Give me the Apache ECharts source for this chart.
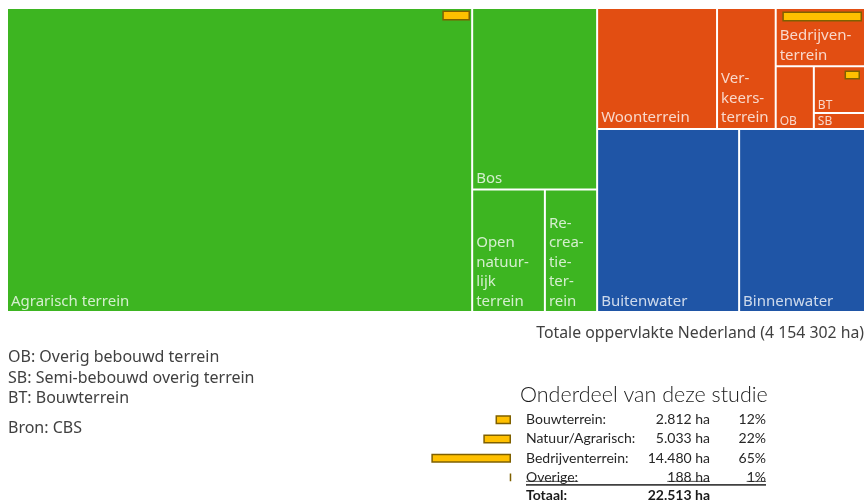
<!DOCTYPE html>
<html lang="nl">
<head>
<meta charset="utf-8">
<title>Bodemgebruik Nederland</title>
<script src="https://cdn.jsdelivr.net/npm/echarts@6/dist/echarts.min.js"></script>
<style>
  html, body { margin: 0; padding: 0; background: #ffffff; }
  #chart { width: 867px; height: 504px; }
</style>
</head>
<body>
<div id="chart"></div>
<script>
// Land use of the Netherlands, in hectares
const areaNames = ['Agrarisch terrein', 'Bos', 'Open natuurlijk terrein', 'Recreatieterrein',
  'Woonterrein', 'Verkeersterrein', 'Bedrijventerrein', 'OB', 'BT', 'SB',
  'Buitenwater', 'Binnenwater'];
const areaLabels = ['Agrarisch terrein', 'Bos', 'Open\nnatuur-\nlijk\nterrein', 'Re-\ncrea-\ntie-\nter-\nrein',
  'Woonterrein', 'Ver-\nkeers-\nterrein', 'Bedrijven-\nterrein', 'OB', 'BT', 'SB',
  'Buitenwater', 'Binnenwater'];
const areaHa = [2252302, 361000, 142000, 102000,
  231000, 113000, 83000, 38000, 38000, 13000,
  414000, 367000];

// Tree structure (indices into the arrays above)
const natuurIdx = [1, 2, 3];
const bebouwdIdx = [4, 5];
const bedrijvenIdx = [6, 7, 8, 9];
const waterIdx = [10, 11];

// Part of the study, in hectares
const studyNames = ['Bouwterrein:', 'Natuur/Agrarisch:', 'Bedrijventerrein:', 'Overige:'];
const studyHa = [2812, 5033, 14480, 188];
const studyPct = [12, 22, 65, 1];

const abbreviations = ['OB: Overig bebouwd terrein', 'SB: Semi-bebouwd overig terrein', 'BT: Bouwterrein'];
const sourceNote = 'Bron: CBS';

const GREEN = '#3db521';
const ORANGE = '#e24e12';
const BLUE = '#1f55a6';
const GOLD = '#ffc000';
const GOLD_EDGE = '#7f6000';
const TEXT = '#404040';

function colorOf(i) {
  if (i <= 3) return GREEN;
  if (i <= 9) return ORANGE;
  return BLUE;
}

const labelByName = {};
areaNames.forEach((n, i) => { labelByName[n] = areaLabels[i]; });

function leaf(i) {
  const node = { name: areaNames[i], value: areaHa[i], itemStyle: { color: colorOf(i) } };
  // short abbreviations sit in small cells: smaller type, tighter line box
  if (areaNames[i].length <= 2) node.label = { fontSize: 12, lineHeight: 12, padding: [0, 0, 0, 3] };
  return node;
}

const treeData = [
  leaf(0),
  { name: 'Natuur', children: natuurIdx.map(leaf) },
  { name: 'Overig', children: [
    { name: 'Bebouwd', children: bebouwdIdx.map(leaf).concat([
      { name: 'Bedrijven', children: bedrijvenIdx.map(leaf) }
    ]) },
    { name: 'Water', children: waterIdx.map(leaf) }
  ] }
];

const totalHa = areaHa.reduce((a, b) => a + b, 0);
const studyTotal = studyHa.reduce((a, b) => a + b, 0);
const spaced = n => String(n).replace(/\B(?=(\d{3})+(?!\d))/g, ' ');
const dotted = n => String(n).replace(/\B(?=(\d{3})+(?!\d))/g, '.');

// Study bars share one scale: SCALE_MAX ha across BAR_W px
const SCALE_MAX = 20000;
const BAR_W = 110;
const W = 867;

// Table of the study part
const tblTop = 410, tblH = 77, rowH = tblH / 4;
const rowY = i => tblTop + (i + 0.5) * rowH;
const colName = 526, colVal = 710, colPct = 766;
const tblFont = '14px Lato';

const measure = (() => {
  const ctx = document.createElement('canvas').getContext('2d');
  return (txt, font) => { ctx.font = font; return ctx.measureText(txt).width; };
})();

const graphics = [];
abbreviations.forEach((t, i) => {
  graphics.push({ type: 'text', style: { text: t, x: 8, y: [357, 378, 398.5][i], fill: TEXT,
    font: '16px "Noto Sans"', align: 'left', verticalAlign: 'middle' } });
});
graphics.push({ type: 'text', style: { text: sourceNote, x: 8, y: 428, fill: TEXT,
  font: '16px "Noto Sans"', align: 'left', verticalAlign: 'middle' } });
graphics.push({ type: 'text', style: { text: 'Totale oppervlakte Nederland (' + spaced(totalHa) + ' ha)',
  x: 864, y: 333, fill: TEXT, font: '15.8px "Noto Sans"', align: 'right', verticalAlign: 'middle' } });
graphics.push({ type: 'text', style: { text: 'Onderdeel van deze studie', x: 520, y: 395, fill: '#1a1a1a',
  font: '300 21.5px Lato', align: 'left', verticalAlign: 'middle' } });

studyNames.forEach((n, i) => {
  const y = rowY(i);
  const valTxt = dotted(studyHa[i]) + ' ha';
  const pctTxt = studyPct[i] + '%';
  graphics.push({ type: 'text', style: { text: n, x: colName, y, fill: '#262626', font: tblFont, align: 'left', verticalAlign: 'middle' } });
  graphics.push({ type: 'text', style: { text: valTxt, x: colVal, y, fill: '#262626', font: tblFont, align: 'right', verticalAlign: 'middle' } });
  graphics.push({ type: 'text', style: { text: pctTxt, x: colPct, y, fill: '#262626', font: tblFont, align: 'right', verticalAlign: 'middle' } });
  if (i === studyNames.length - 1) {
    const uy = y + 4;
    const segs = [[colName, colName + measure(n, tblFont)],
                  [colVal - measure(valTxt, tblFont), colVal],
                  [colPct - measure(pctTxt, tblFont), colPct]];
    segs.forEach(s => graphics.push({ type: 'line', shape: { x1: s[0], y1: uy, x2: s[1], y2: uy },
      style: { stroke: '#262626', lineWidth: 0.8 } }));
    graphics.push({ type: 'line', shape: { x1: colName, y1: y + 7.5, x2: colPct, y2: y + 7.5 },
      style: { stroke: '#404040', lineWidth: 1.6 } });
  }
});
const totY = rowY(4) - 1.5;
graphics.push({ type: 'text', style: { text: 'Totaal:', x: colName, y: totY, fill: '#1a1a1a',
  font: 'bold 14px Lato', align: 'left', verticalAlign: 'middle' } });
graphics.push({ type: 'text', style: { text: dotted(studyTotal) + ' ha', x: colVal, y: totY, fill: '#1a1a1a',
  font: 'bold 14px Lato', align: 'right', verticalAlign: 'middle' } });

// Grids for the study bars: the table, and marks on the treemap cells
const barGrids = [
  { right: W - 511, top: tblTop, height: tblH, rows: studyNames, values: studyHa, barWidth: 9 },
  { right: W - 470, top: 10, height: 11, rows: [studyNames[1]], values: [studyHa[1]], barWidth: 10 },
  { right: W - 862, top: 11, height: 11, rows: [studyNames[2]], values: [studyHa[2]], barWidth: 10 },
  { right: W - 860, top: 70, height: 10, rows: [studyNames[0]], values: [studyHa[0]], barWidth: 9 }
];

const option = {
  animation: false,
  backgroundColor: '#ffffff',
  grid: barGrids.map(g => ({ right: g.right, top: g.top, width: BAR_W, height: g.height, containLabel: false })),
  xAxis: barGrids.map((g, k) => ({ gridIndex: k, type: 'value', min: 0, max: SCALE_MAX, inverse: true, show: false })),
  yAxis: barGrids.map((g, k) => ({ gridIndex: k, type: 'category', data: g.rows, inverse: true, show: false })),
  graphic: { elements: graphics },
  series: [
    {
      type: 'treemap',
      left: 8, top: 9, width: 856, height: 302,
      roam: false,
      nodeClick: false,
      breadcrumb: { show: false },
      squareRatio: 1,
      sort: false,
      silent: true,
      itemStyle: { borderWidth: 0, gapWidth: 2, borderColor: '#ffffff' },
      levels: [0, 1, 2, 3, 4].map(() => ({ itemStyle: { borderWidth: 0, gapWidth: 2, borderColor: '#ffffff' } })),
      label: {
        show: true,
        position: 'insideBottomLeft',
        distance: 0,
        padding: [0, 0, 0, 3],
        color: 'rgba(255,255,255,0.78)',
        fontFamily: 'Noto Sans',
        fontSize: 15,
        lineHeight: 19.5,
        formatter: p => labelByName[p.name] || p.name
      },
      upperLabel: { show: false },
      data: treeData
    }
  ].concat(barGrids.map((g, k) => ({
    type: 'bar',
    xAxisIndex: k,
    yAxisIndex: k,
    data: g.values,
    barWidth: g.barWidth,
    z: 5,
    silent: true,
    itemStyle: { color: GOLD, borderColor: GOLD_EDGE, borderWidth: 1.5 }
  })))
};

const chart = echarts.init(document.getElementById('chart'), null, { renderer: 'canvas' });
chart.setOption(option);
</script>
</body>
</html>
